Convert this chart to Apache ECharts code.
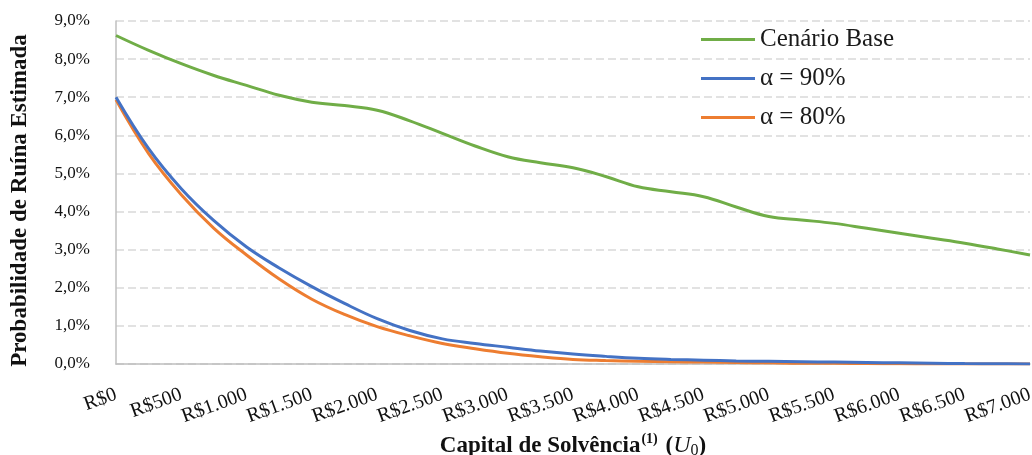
<!DOCTYPE html>
<html><head><meta charset="utf-8">
<script src="https://cdn.jsdelivr.net/npm/echarts@6/dist/echarts.min.js"></script>
<style>html,body{margin:0;padding:0;background:#fff}#c{width:1032px;height:455px}</style>
</head><body><div id="c"></div>
<script>
const capital = [0,250,500,750,1000,1250,1500,1750,2000,2250,2500,2750,3000,3250,3500,3750,4000,4250,4500,4750,5000,5250,5500,5750,6000,6250,6500,6750,7000];
const base = [8.62,8.23,7.88,7.57,7.31,7.05,6.87,6.78,6.66,6.38,6.05,5.72,5.44,5.28,5.15,4.92,4.65,4.52,4.39,4.12,3.87,3.78,3.69,3.56,3.43,3.30,3.17,3.02,2.86];
const alpha90 = [7.00,5.65,4.60,3.76,3.07,2.52,2.03,1.59,1.19,0.88,0.66,0.54,0.44,0.34,0.26,0.20,0.15,0.12,0.10,0.08,0.07,0.06,0.05,0.04,0.03,0.02,0.01,0.005,0.0];
const alpha80 = [6.93,5.52,4.44,3.56,2.86,2.23,1.70,1.30,0.98,0.74,0.54,0.40,0.28,0.19,0.12,0.09,0.07,0.06,0.05,0.04,0.03,0.02,0.02,0.01,0.005,0.0,0.0,0.0,0.0];
const seriesNames = ['Cenário Base','α = 90%','α = 80%'];
const colors = ['#70ad47','#4472c4','#ed7d31'];

function fmtMoney(v){ return 'R$' + String(v).replace(/\B(?=(\d{3})+(?!\d))/g,'.'); }
function pairs(ys){ return capital.map((x,i)=>[x,ys[i]]); }

const font = 'Liberation Serif, Times New Roman, serif';
const chart = echarts.init(document.getElementById('c'));
chart.setOption({
  animation:false,
  textStyle:{fontFamily:font},
  grid:{left:116,right:2,top:21,bottom:91,containLabel:false,outerBoundsMode:'none'},
  legend:{
    orient:'vertical', left:696, top:22, itemGap:14, itemWidth:54, itemHeight:3,
    icon:'rect',
    textStyle:{fontFamily:font,fontSize:25,color:'#1a1a1a'},
    data:seriesNames
  },
  xAxis:{
    type:'value', min:0, max:7000, interval:500,
    axisLine:{show:true,lineStyle:{color:'#bfbfbf',width:1.5}},
    axisTick:{show:false},
    splitLine:{show:false},
    axisLabel:{rotate:20,margin:30,fontFamily:font,fontSize:20,color:'#111',formatter:fmtMoney},
    name:'{b|Capital de Solvência}{sup|(1)}{b| (}{i|U}{sub|0}{b|)}',
    nameLocation:'middle', nameGap:63,
    nameTextStyle:{rich:{
      b:{fontFamily:font,fontSize:23,fontWeight:'bold',color:'#111'},
      sup:{fontFamily:font,fontSize:14,fontWeight:'bold',color:'#111',verticalAlign:'top',padding:[0,2,10,1]},
      i:{fontFamily:font,fontSize:24,fontStyle:'italic',color:'#111'},
      sub:{fontFamily:font,fontSize:16,color:'#111',padding:[10,0,0,0]}
    }}
  },
  yAxis:{
    type:'value', min:0, max:9, interval:1,
    axisLine:{show:true,lineStyle:{color:'#bfbfbf',width:1.5}},
    axisTick:{show:false},
    splitLine:{show:true,lineStyle:{color:'#d9d9d9',width:1.5,type:[8,4]}},
    axisLabel:{margin:26,fontFamily:font,fontSize:17,color:'#111',formatter:v=>v.toFixed(1).replace('.',',')+'%'},
    name:'Probabilidade de Ruína Estimada',
    nameLocation:'middle', nameGap:84,
    nameTextStyle:{fontFamily:font,fontSize:23,fontWeight:'bold',color:'#111',padding:[0,16,0,0]}
  },
  series:[base,alpha90,alpha80].map((d,i)=>({
    name:seriesNames[i], type:'line', data:pairs(d), smooth:0.4, symbol:'none',
    lineStyle:{color:colors[i],width:3}, itemStyle:{color:colors[i]}, z:3-i
  }))
});
</script></body></html>
